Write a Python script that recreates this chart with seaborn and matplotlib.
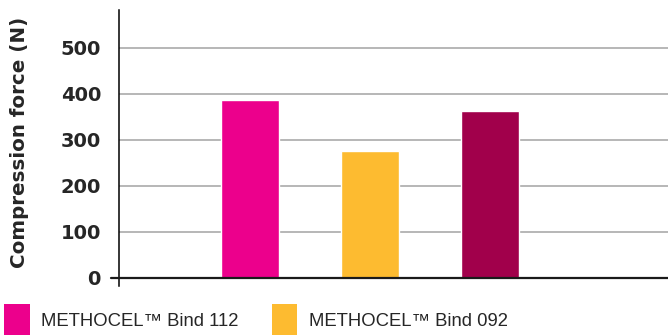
import pandas as pd
import seaborn as sns
import matplotlib.pyplot as plt
from matplotlib.patches import Patch

# values
products = ["METHOCEL™ Bind 112", "METHOCEL™ Bind 092", "Binder 3"]
force = [387, 276, 363]
colors = ["#EC008C", "#FDBB30", "#A1004B"]
y_ticks = [0, 100, 200, 300, 400, 500]

data = pd.DataFrame({"Product": products, "Force": force})

sns.set_style("white")
plt.rcParams["font.family"] = ["DejaVu Sans"]

fig = plt.figure(figsize=(6.68, 3.35), dpi=100)
ax = fig.add_axes([119 / 668, 1 - 286 / 335, 549 / 668, 276 / 335])

sns.barplot(data=data, x="Product", y="Force", hue="Product",
            palette=colors, width=0.483, saturation=1, ax=ax, legend=False)

ax.set_xlim(-1.092, 3.483)
ax.set_ylim(-17.4, 582.6)
ax.set_yticks(y_ticks)
ax.set_xticks([])
ax.set_xlabel("")
ax.set_ylabel("Compression force (N)", fontsize=14.3, fontweight="bold")
ax.yaxis.set_label_coords(-90 / 549, 0.52)

# grey gridlines behind the bars
ax.set_axisbelow(True)
ax.grid(axis="y", color="#a3a3a3", linewidth=1.1)
ax.tick_params(axis="y", length=6, width=1.1, color="#a3a3a3", pad=7,
               labelsize=14)
for lab in ax.get_yticklabels():
    lab.set_fontweight("bold")

for side in ["top", "right", "bottom"]:
    ax.spines[side].set_visible(False)
ax.spines["left"].set_color("black")
ax.spines["left"].set_linewidth(1.1)

# dark zero line, running out past the spine like a tick
ax.axhline(0, xmin=-8 / 549, xmax=1, color="#1a1a1a", linewidth=1.6,
           clip_on=False, zorder=3)

handles = [Patch(facecolor=c, edgecolor="none") for c in colors[:2]]
fig.legend(handles, products[:2], loc="upper left",
           bbox_to_anchor=(4 / 668, 1 - 304 / 335), ncol=2, frameon=False,
           borderpad=0, borderaxespad=0, handlelength=1.4, handleheight=2.4,
           handletextpad=0.6, columnspacing=1.8,
           prop={"family": "Liberation Sans", "size": 13.3})

fig.savefig("out.png", dpi=100)
